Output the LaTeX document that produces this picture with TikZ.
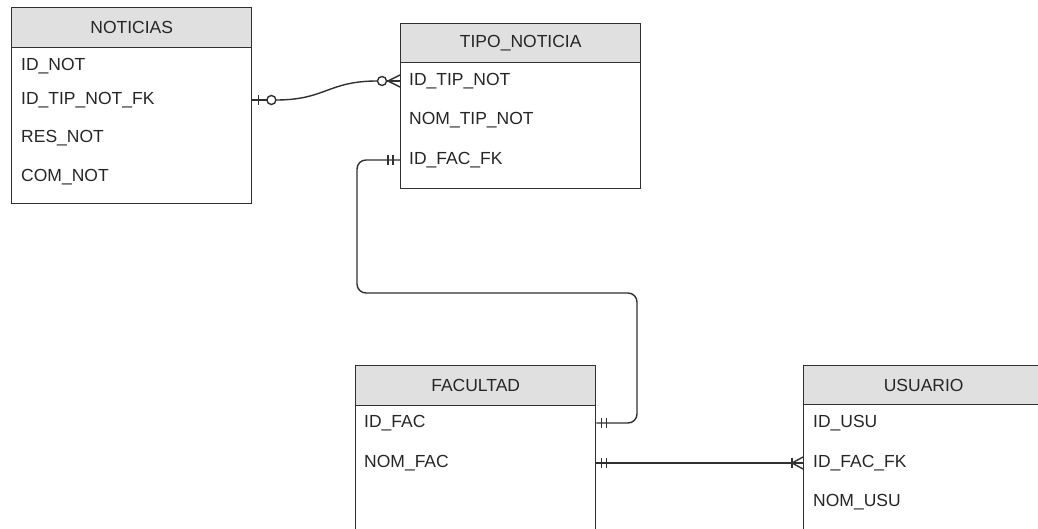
\documentclass[tikz,border=0pt]{standalone}
\usepackage{fontspec}
\setmainfont{Liberation Sans}
\usetikzlibrary{calc}
\definecolor{ln}{HTML}{303030}
\definecolor{hd}{HTML}{E0E0E0}
\definecolor{tx}{HTML}{262626}
\begin{document}
\begin{tikzpicture}[x=1pt,y=-1pt,
  tbody/.style={draw=ln, fill=white, line width=1.4pt, minimum width=240pt, anchor=north west, inner sep=0pt},
  thead/.style={draw=ln, fill=hd, line width=1.4pt, minimum width=240pt, minimum height=40pt, anchor=north west, inner sep=0pt, text=tx, font=\fontsize{17.5}{20}\selectfont},
  trow/.style={anchor=west, inner sep=0pt, text=tx, font=\fontsize{17.5}{20}\selectfont},
  conn/.style={draw=ln, line width=1.4pt},
]
\useasboundingbox (0,0) rectangle (1038,529);

% NOTICIAS
\node[tbody, minimum height=156pt] (notB) at (11,47) {};
\node[thead] (notH) at (11,7) {NOTICIAS};
\node[trow] (n1) at (21,66) {ID\_NOT};
\node[trow] (n2) at (21,100) {ID\_TIP\_NOT\_FK};
\node[trow] (n3) at (21,138) {RES\_NOT};
\node[trow] (n4) at (21,177) {COM\_NOT};

% TIPO_NOTICIA
\node[tbody, minimum height=126pt] (tipB) at (400,62) {};
\node[thead, minimum height=39pt] (tipH) at (400,23) {TIPO\_NOTICIA};
\node[trow] (t1) at (409,81) {ID\_TIP\_NOT};
\node[trow] (t2) at (409,120) {NOM\_TIP\_NOT};
\node[trow] (t3) at (409,160) {ID\_FAC\_FK};

% FACULTAD
\node[tbody, minimum height=150pt] (facB) at (355,405) {};
\node[thead] (facH) at (355,365) {FACULTAD};
\node[trow] (f1) at (364,423) {ID\_FAC};
\node[trow] (f2) at (364,463) {NOM\_FAC};

% USUARIO
\node[tbody, minimum height=150pt] (usuB) at (803,404) {};
\node[thead, minimum height=39pt] (usuH) at (803,365) {USUARIO};
\node[trow] (u1) at (813,423) {ID\_USU};
\node[trow] (u2) at (813,463) {ID\_FAC\_FK};
\node[trow] (u3) at (813,502) {NOM\_USU};

% connector NOTICIAS -- TIPO_NOTICIA
\coordinate (c1a) at (notB.east |- n2);
\coordinate (c1b) at (tipB.west |- t1);
\draw[conn] (c1a) -- ($(c1a)+(15,0)$);
\draw[conn] ($(c1a)+(6,-5)$) -- ($(c1a)+(6,5)$);
\draw[conn] ($(c1a)+(19,0)$) circle (4.5pt);
\draw[conn] ($(c1a)+(23.5,0)$) .. controls +(50,0) and +(-50,0) .. ($(c1b)+(-22.5,0)$);
\draw[conn] ($(c1b)+(-18,0)$) circle (4.5pt);
\draw[conn] ($(c1b)+(-13.5,0)$) -- (c1b);
\draw[conn] ($(c1b)+(-12,0)$) -- ($(c1b)+(0,-6)$);
\draw[conn] ($(c1b)+(-12,0)$) -- ($(c1b)+(0,6)$);

% connector TIPO_NOTICIA -- FACULTAD
\coordinate (c2a) at (tipB.west |- t3);
\coordinate (c2b) at (facB.east |- f1);
\coordinate (w1) at (357,293);
\coordinate (w2) at (637,293);
\draw[conn, rounded corners=9pt] (c2a) -| (w1) -- (w2) |- (c2b);
\draw[conn] ($(c2a)+(-7,-5)$) -- ($(c2a)+(-7,5)$);
\draw[conn] ($(c2a)+(-12,-5)$) -- ($(c2a)+(-12,5)$);
\draw[conn] ($(c2b)+(5,-5)$) -- ($(c2b)+(5,5)$);
\draw[conn] ($(c2b)+(10,-5)$) -- ($(c2b)+(10,5)$);

% connector FACULTAD -- USUARIO
\coordinate (c3a) at (facB.east |- f2);
\coordinate (c3b) at (usuB.west |- u2);
\draw[conn] (c3a) -- (c3b);
\draw[conn] ($(c3a)+(5,-5)$) -- ($(c3a)+(5,5)$);
\draw[conn] ($(c3a)+(10,-5)$) -- ($(c3a)+(10,5)$);
\draw[conn] ($(c3b)+(-11,-5)$) -- ($(c3b)+(-11,5)$);
\draw[conn] ($(c3b)+(-11,0)$) -- ($(c3b)+(0,-6)$);
\draw[conn] ($(c3b)+(-11,0)$) -- ($(c3b)+(0,6)$);
\end{tikzpicture}
\end{document}
